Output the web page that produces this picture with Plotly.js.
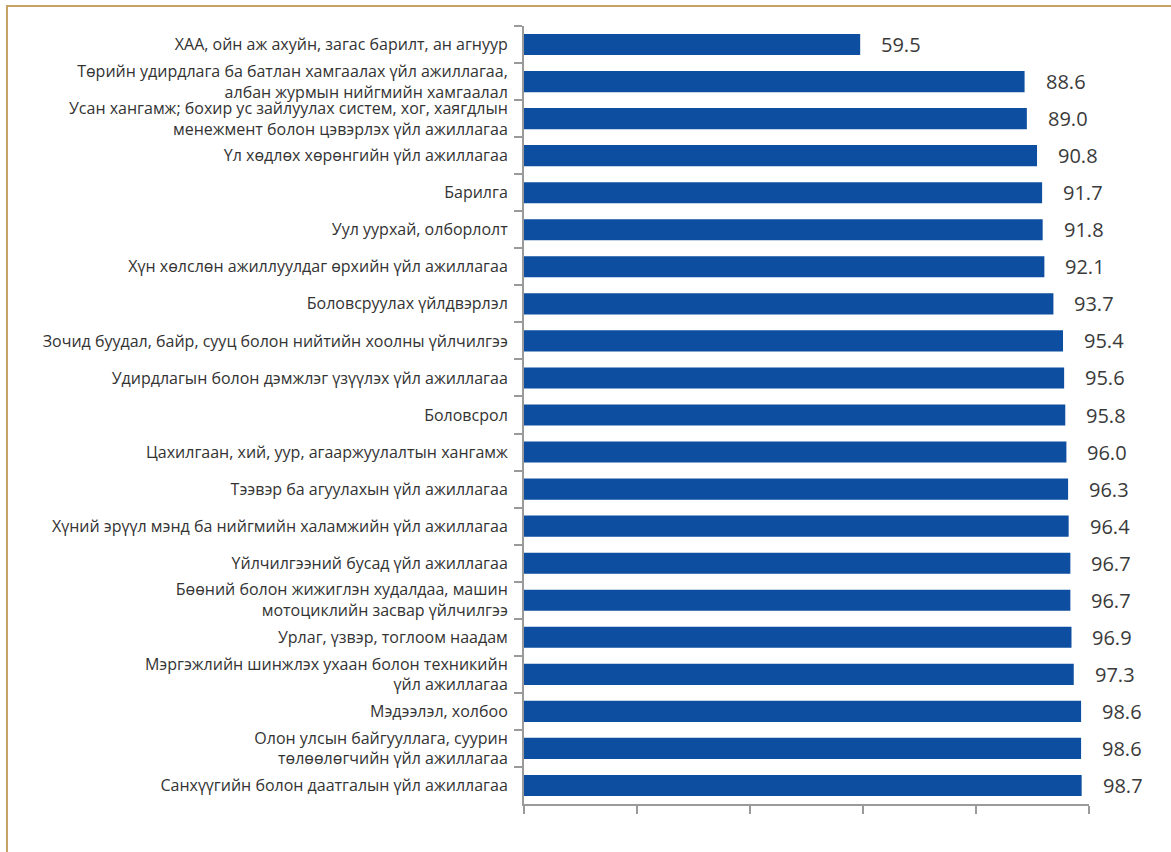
<!DOCTYPE html>
<html>
<head>
<meta charset="utf-8">
<script src="https://cdn.plot.ly/plotly-3.0.1.min.js"></script>
<style>
  html, body { margin: 0; padding: 0; background: #ffffff; }
  #wrap { position: relative; width: 1171px; height: 852px; }
  #chart { width: 1171px; height: 852px; }
  #frame { position: absolute; left: 6px; top: 5px; right: 0; bottom: 0;
           border-top: 2px solid #C6A266; border-left: 2px solid #C6A266; pointer-events: none; }
</style>
</head>
<body>
<div id="wrap">
  <div id="chart"></div>
  <div id="frame"></div>
</div>
<script>
// Sectors (categories), top to bottom
const categories = [
  "ХАА, ойн аж ахуйн, загас барилт, ан агнуур",
  "Төрийн удирдлага ба батлан хамгаалах үйл ажиллагаа,<br>албан журмын нийгмийн хамгаалал",
  "Усан хангамж; бохир ус зайлуулах систем, хог, хаягдлын<br>менежмент болон цэвэрлэх үйл ажиллагаа",
  "Үл хөдлөх хөрөнгийн үйл ажиллагаа",
  "Барилга",
  "Уул уурхай, олборлолт",
  "Хүн хөлслөн ажиллуулдаг өрхийн үйл ажиллагаа",
  "Боловсруулах үйлдвэрлэл",
  "Зочид буудал, байр, сууц болон нийтийн хоолны үйлчилгээ",
  "Удирдлагын болон дэмжлэг үзүүлэх үйл ажиллагаа",
  "Боловсрол",
  "Цахилгаан, хий, уур, агааржуулалтын хангамж",
  "Тээвэр ба агуулахын үйл ажиллагаа",
  "Хүний эрүүл мэнд ба нийгмийн халамжийн үйл ажиллагаа",
  "Үйлчилгээний бусад үйл ажиллагаа",
  "Бөөний болон жижиглэн худалдаа, машин<br>мотоциклийн засвар үйлчилгээ",
  "Урлаг, үзвэр, тоглоом наадам",
  "Мэргэжлийн шинжлэх ухаан болон техникийн<br>үйл ажиллагаа",
  "Мэдээлэл, холбоо",
  "Олон улсын байгууллага, суурин<br>төлөөлөгчийн үйл ажиллагаа",
  "Санхүүгийн болон даатгалын үйл ажиллагаа"
];

// Values (%)
const values = [59.5, 88.6, 89.0, 90.8, 91.7, 91.8, 92.1, 93.7, 95.4, 95.6, 95.8,
                96.0, 96.3, 96.4, 96.7, 96.7, 96.9, 97.3, 98.6, 98.6, 98.7];

// X-axis tick positions (no labels shown)
const xTicks = [0, 20, 40, 60, 80, 100];

const barColor = "#0D4EA0";
const axisColor = "#9A9A9A";
const textColor = "#333333";

const trace = {
  type: "bar",
  orientation: "h",
  x: values,
  y: categories,
  marker: { color: barColor },
  hoverinfo: "skip"
};

const annotations = values.map((v, i) => ({
  x: v,
  y: categories[i],
  xref: "x",
  yref: "y",
  text: v.toFixed(1),
  showarrow: false,
  xanchor: "left",
  yanchor: "middle",
  xshift: 19,
  font: { family: "Open Sans", size: 20, color: "#3A3A3A" }
}));

const layout = {
  width: 1171,
  height: 852,
  margin: { l: 524, r: 82, t: 26, b: 48, pad: 0 },
  paper_bgcolor: "#ffffff",
  plot_bgcolor: "#ffffff",
  showlegend: false,
  bargap: 0.43,
  font: { family: "Open Sans", color: textColor },
  xaxis: {
    range: [0, 100],
    tickmode: "array",
    tickvals: xTicks,
    showticklabels: false,
    ticks: "outside",
    ticklen: 8,
    tickwidth: 2,
    tickcolor: axisColor,
    showline: true,
    linecolor: axisColor,
    linewidth: 2,
    showgrid: false,
    zeroline: false,
    fixedrange: true
  },
  yaxis: {
    type: "category",
    autorange: "reversed",
    ticks: "outside",
    tickson: "boundaries",
    ticklen: 8,
    tickwidth: 2,
    tickcolor: axisColor,
    showline: true,
    linecolor: axisColor,
    linewidth: 2,
    showgrid: false,
    zeroline: false,
    ticklabelstandoff: 11,
    tickfont: { family: "Open Sans", size: 16, color: textColor },
    fixedrange: true
  },
  annotations: annotations
};

Plotly.newPlot("chart", [trace], layout, { staticPlot: true, displayModeBar: false });
</script>
</body>
</html>
